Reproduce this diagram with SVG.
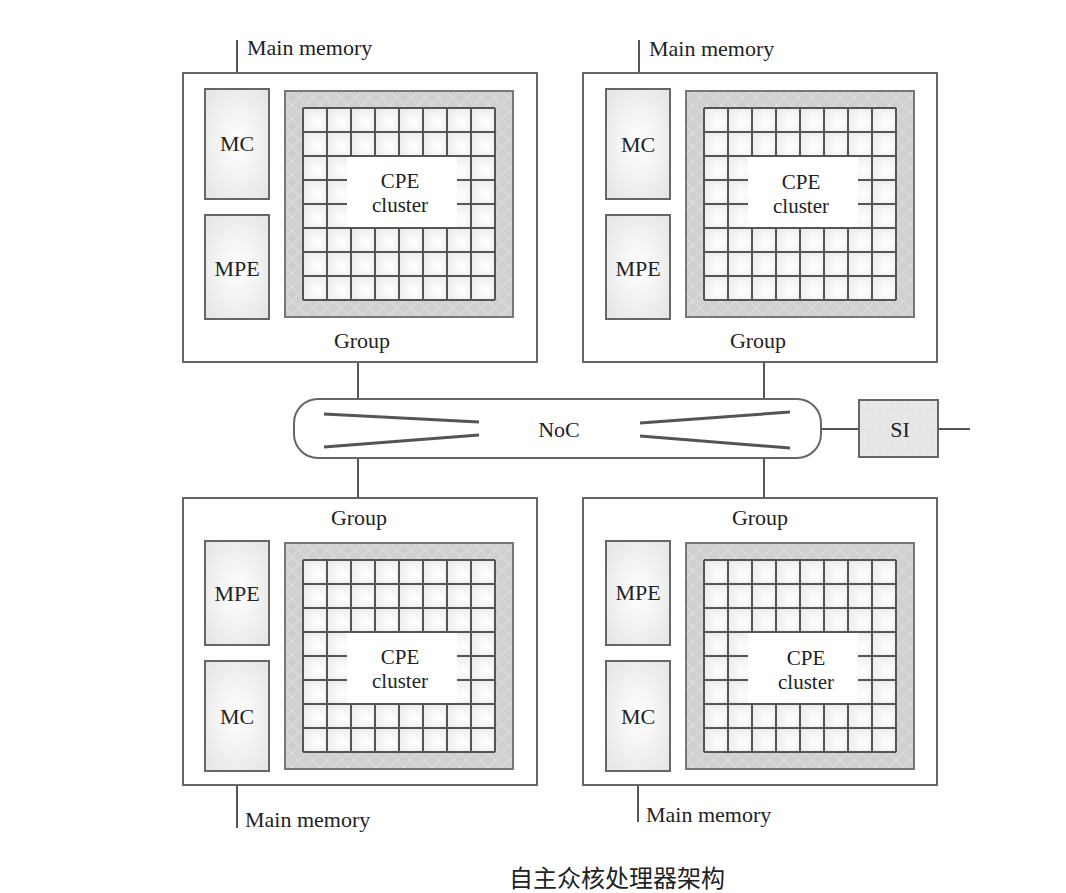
<svg xmlns="http://www.w3.org/2000/svg" xmlns:xlink="http://www.w3.org/1999/xlink" width="1066" height="893" viewBox="0 0 1066 893">
<style>
.box{fill:#fff;stroke:#666;stroke-width:2}
.unit{fill:url(#unitGrad);stroke:#666;stroke-width:2}
.lbl{font-family:"Liberation Serif","Times New Roman",serif;font-size:22px;fill:#222}
.cpe{font-size:21px}
.mid{text-anchor:middle}
.wire{stroke:#555;stroke-width:2;fill:none}
.grid{stroke:#555;stroke-width:2;fill:none}
.noc-line{stroke:#555;stroke-width:3;fill:none}
</style>
<defs>
<radialGradient id="unitGrad" cx="0.5" cy="0.5" r="0.7">
<stop offset="0" stop-color="#ffffff"/>
<stop offset="1" stop-color="#e4e4e4"/>
</radialGradient>
<radialGradient id="cellGrad" cx="0.6" cy="0.6" r="0.8">
<stop offset="0" stop-color="#ffffff"/>
<stop offset="1" stop-color="#e8e8e8"/>
</radialGradient>
<pattern id="cells" patternUnits="userSpaceOnUse" x="18" y="17" width="24" height="24">
<rect width="24" height="24" fill="url(#cellGrad)"/>
</pattern>
<pattern id="hatch" patternUnits="userSpaceOnUse" width="14" height="14">
<rect width="14" height="14" fill="#d0d0d0"/>
<path d="M0,7 L7,0 L14,7 L7,14 Z" fill="none" stroke="#dcdcdc" stroke-width="1.2"/>
</pattern>
<pattern id="dots" patternUnits="userSpaceOnUse" width="10" height="10">
<rect width="10" height="10" fill="#e6e6e6"/>
<circle cx="5" cy="5" r="0.8" fill="#f4f4f4"/>
</pattern>
<g id="gridBase">
<rect x="0" y="0" width="228" height="226" fill="url(#hatch)" stroke="#777" stroke-width="2"/>
<rect x="18" y="17" width="192" height="192" fill="url(#cells)"/>
<path class="grid" d="M18,17V209M42,17V209M66,17V209M90,17V209M114,17V209M138,17V209M162,17V209M186,17V209M210,17V209M18,17H210M18,41H210M18,65H210M18,89H210M18,113H210M18,137H210M18,161H210M18,185H210M18,209H210"/>
</g>
<g id="clusterTop">
<use xlink:href="#gridBase"/>
<rect x="62" y="66" width="110" height="70" fill="#fff"/>
</g>
<g id="clusterBottom">
<use xlink:href="#gridBase"/>
<rect x="62" y="90" width="110" height="70" fill="#fff"/>
</g>
</defs>
<rect width="1066" height="893" fill="#fff"/>

<g id="connectors">
<line class="wire" x1="237" y1="40" x2="237" y2="89"/>
<line class="wire" x1="639" y1="40" x2="639" y2="89"/>
<line class="wire" x1="237" y1="771" x2="237" y2="828"/>
<line class="wire" x1="638" y1="771" x2="638" y2="822"/>
<line class="wire" x1="358" y1="362" x2="358" y2="399"/>
<line class="wire" x1="764" y1="362" x2="764" y2="399"/>
<line class="wire" x1="358" y1="458" x2="358" y2="498"/>
<line class="wire" x1="764" y1="458" x2="764" y2="498"/>
<line class="wire" x1="821" y1="429" x2="859" y2="429"/>
<line class="wire" x1="938" y1="429" x2="970" y2="429"/>
</g>

<g id="group-tl">
<rect class="box" x="183" y="73" width="354" height="289"/>
<rect class="unit" x="205" y="89" width="64" height="110"/>
<text class="lbl mid" x="237" y="151">MC</text>
<rect class="unit" x="205" y="215" width="64" height="104"/>
<text class="lbl mid" x="237" y="276">MPE</text>
<use xlink:href="#clusterTop" x="285" y="91"/>
<text class="lbl cpe mid" x="400" y="188">CPE</text>
<text class="lbl cpe mid" x="400" y="211.5">cluster</text>
<text class="lbl mid" x="362" y="348">Group</text>
<text class="lbl" x="247" y="55">Main memory</text>
</g>

<g id="group-tr">
<rect class="box" x="583" y="73" width="354" height="289"/>
<rect class="unit" x="606" y="89" width="64" height="110"/>
<text class="lbl mid" x="638" y="152">MC</text>
<rect class="unit" x="606" y="215" width="64" height="104"/>
<text class="lbl mid" x="638" y="276">MPE</text>
<use xlink:href="#clusterTop" x="686" y="91"/>
<text class="lbl cpe mid" x="801" y="189">CPE</text>
<text class="lbl cpe mid" x="801" y="212.5">cluster</text>
<text class="lbl mid" x="758" y="348">Group</text>
<text class="lbl" x="649" y="56">Main memory</text>
</g>

<g id="group-bl">
<rect class="box" x="183" y="498" width="354" height="287"/>
<text class="lbl mid" x="359" y="525">Group</text>
<rect class="unit" x="205" y="541" width="64" height="104"/>
<text class="lbl mid" x="237" y="601">MPE</text>
<rect class="unit" x="205" y="661" width="64" height="110"/>
<text class="lbl mid" x="237" y="724">MC</text>
<use xlink:href="#clusterBottom" x="285" y="543"/>
<text class="lbl cpe mid" x="400" y="664">CPE</text>
<text class="lbl cpe mid" x="400" y="687.5">cluster</text>
<text class="lbl" x="245" y="827">Main memory</text>
</g>

<g id="group-br">
<rect class="box" x="583" y="498" width="354" height="287"/>
<text class="lbl mid" x="760" y="525">Group</text>
<rect class="unit" x="606" y="541" width="64" height="104"/>
<text class="lbl mid" x="638" y="600">MPE</text>
<rect class="unit" x="606" y="661" width="64" height="110"/>
<text class="lbl mid" x="638" y="724">MC</text>
<use xlink:href="#clusterBottom" x="686" y="543"/>
<text class="lbl cpe mid" x="806" y="665">CPE</text>
<text class="lbl cpe mid" x="806" y="688.5">cluster</text>
<text class="lbl" x="646" y="822">Main memory</text>
</g>

<g id="noc">
<rect class="box" x="294" y="399" width="527" height="59" rx="24" ry="24"/>
<line class="noc-line" x1="324" y1="414" x2="479" y2="422"/>
<line class="noc-line" x1="324" y1="447" x2="479" y2="435"/>
<line class="noc-line" x1="640" y1="423" x2="790" y2="412"/>
<line class="noc-line" x1="640" y1="436" x2="790" y2="448"/>
<text class="lbl mid" x="559" y="437">NoC</text>
</g>

<g id="si">
<rect x="859" y="400" width="79" height="57" fill="url(#dots)" stroke="#666" stroke-width="2"/>
<text class="lbl mid" x="900" y="437">SI</text>
</g>

<g id="caption">
<text x="617" y="887" text-anchor="middle" font-family="'Noto Sans CJK SC','Noto Sans CJK JP',sans-serif" font-size="24" fill="#222">自主众核处理器架构</text>
</g>
</svg>
